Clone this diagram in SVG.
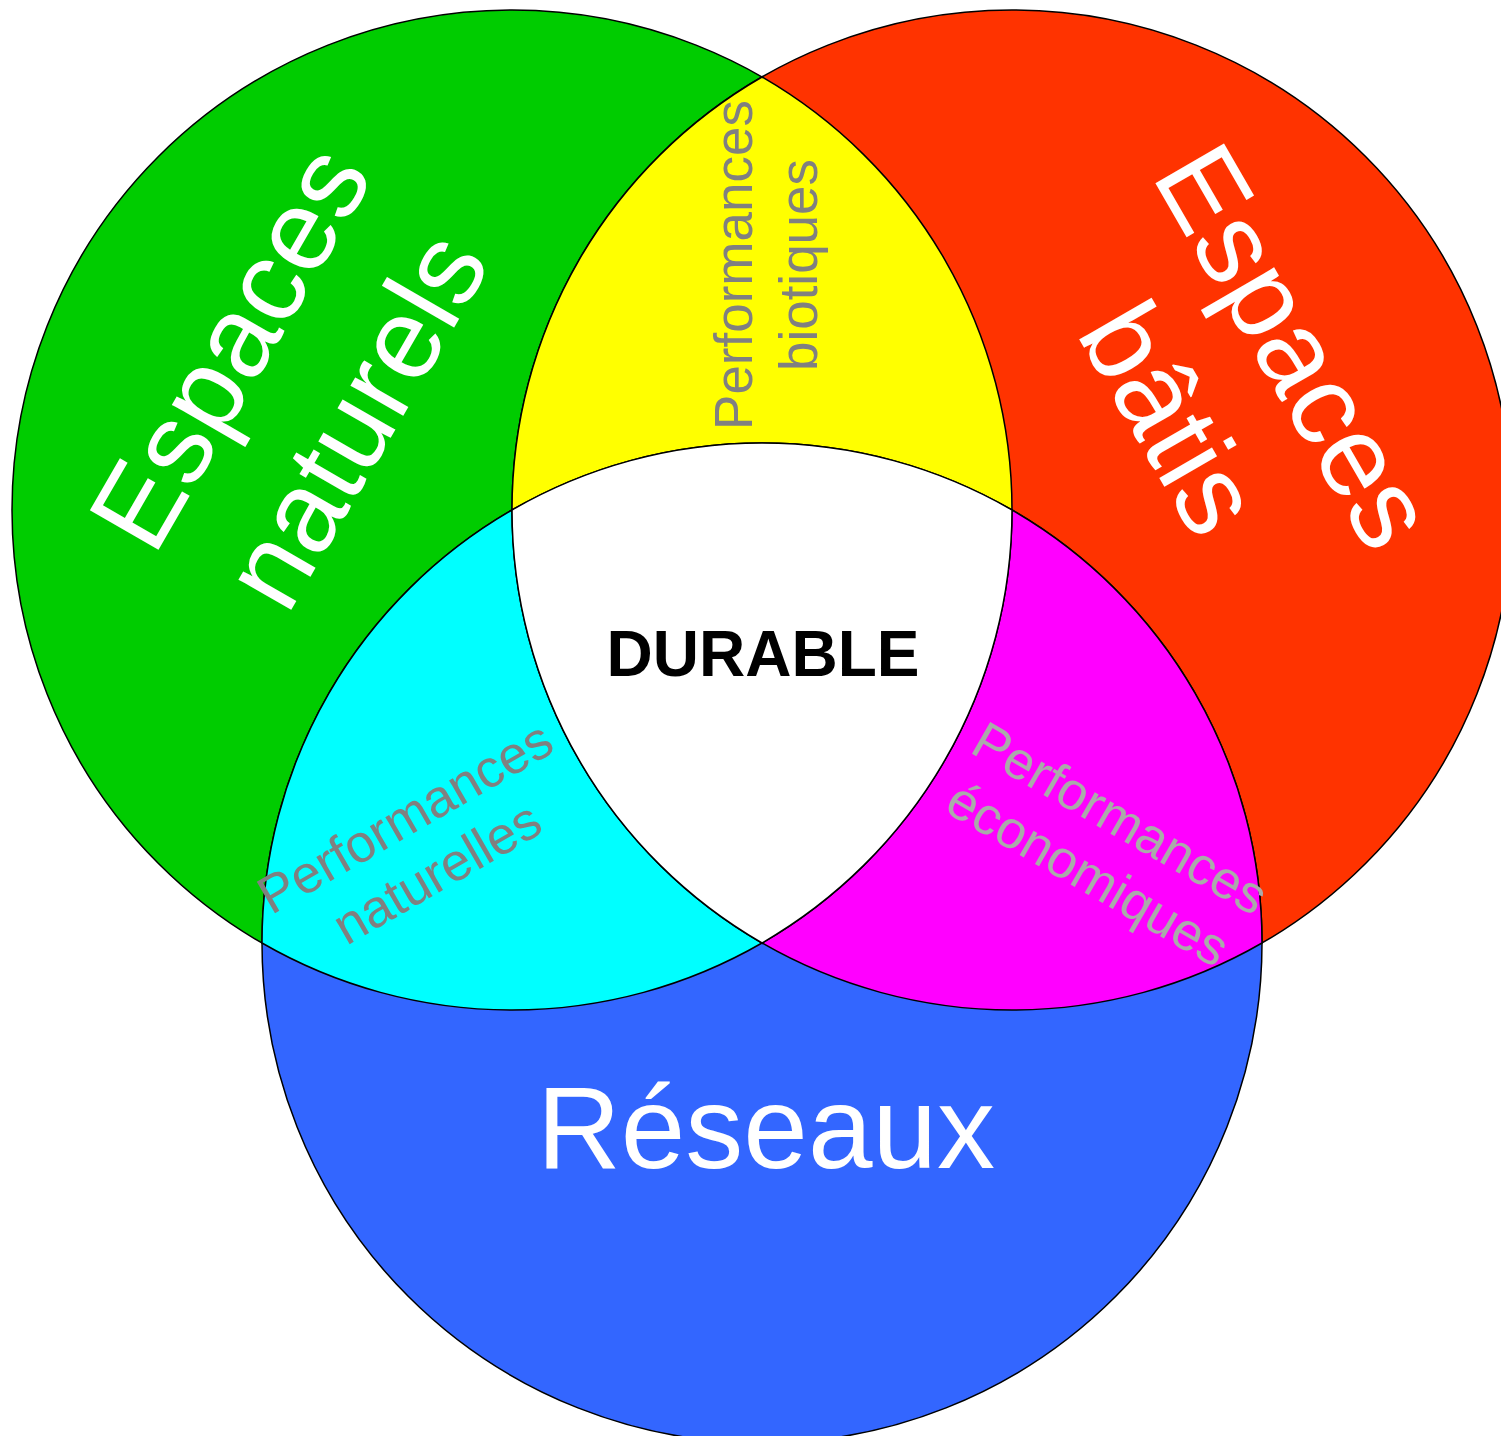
<svg xmlns="http://www.w3.org/2000/svg" width="1501" height="1436" viewBox="0 0 1501 1436">
<style>
.reg{stroke:#000;stroke-width:1.5}
.big{font-family:"Liberation Sans",Arial,sans-serif;fill:#fff;text-anchor:middle}
.perf{font-family:"Liberation Sans",Arial,sans-serif;font-size:53px;text-anchor:middle}
</style>
<rect width="1501" height="1436" fill="#fff"/>
<g id="naturels">
<circle class="reg" cx="512" cy="510" r="500" fill="#00CC00"/>
</g>
<g id="batis">
<circle class="reg" cx="1012" cy="510" r="500" fill="#FF3300"/>
</g>
<g id="reseaux">
<circle class="reg" cx="762" cy="943" r="500" fill="#3366FF"/>
</g>
<g id="biotiques">
<path class="reg" fill="#FFFF00" d="M762 77 A500 500 0 0 0 512 510 A500 500 0 0 1 1012 510 A500 500 0 0 0 762 77 Z"/>
</g>
<g id="perf-naturelles">
<path class="reg" fill="#00FFFF" d="M262 943 A500 500 0 0 1 512 510 A500 500 0 0 0 762 943 A500 500 0 0 1 262 943 Z"/>
</g>
<g id="economiques">
<path class="reg" fill="#FF00FF" d="M1012 510 A500 500 0 0 1 762 943 A500 500 0 0 0 1262 943 A500 500 0 0 0 1012 510 Z"/>
</g>
<g id="durable">
<path class="reg" fill="#FFFFFF" d="M512 510 A500 500 0 0 1 1012 510 A500 500 0 0 1 762 943 A500 500 0 0 1 512 510 Z"/>
</g>
<g id="connectors"/>
<g id="labels">
<text class="big" font-size="115" transform="translate(264,367) rotate(-60)"><tspan x="0" y="0">Espaces</tspan><tspan x="0" y="145">naturels</tspan></text>
<text class="big" font-size="115" transform="translate(1261,366) rotate(60)"><tspan x="0" y="0">Espaces</tspan><tspan x="0" y="144">bâtis</tspan></text>
<text class="big" font-size="116" x="766" y="1168">Réseaux</text>
<text x="763" y="676" font-family="Liberation Sans,Arial,sans-serif" font-weight="bold" font-size="64" text-anchor="middle" fill="#000">DURABLE</text>
<text class="perf" fill="#808080" transform="translate(784,265) rotate(-90)"><tspan x="0" y="-32">Performances</tspan><tspan x="0" y="33">biotiques</tspan></text>
<text class="perf" fill="#808080" transform="translate(414,833) rotate(-30)"><tspan x="0" y="0">Performances</tspan><tspan x="0" y="64">naturelles</tspan></text>
<text class="perf" fill="#AAAAAA" transform="translate(1111,834) rotate(30)"><tspan x="0" y="0">Performances</tspan><tspan x="0" y="64">économiques</tspan></text>
</g>
</svg>
